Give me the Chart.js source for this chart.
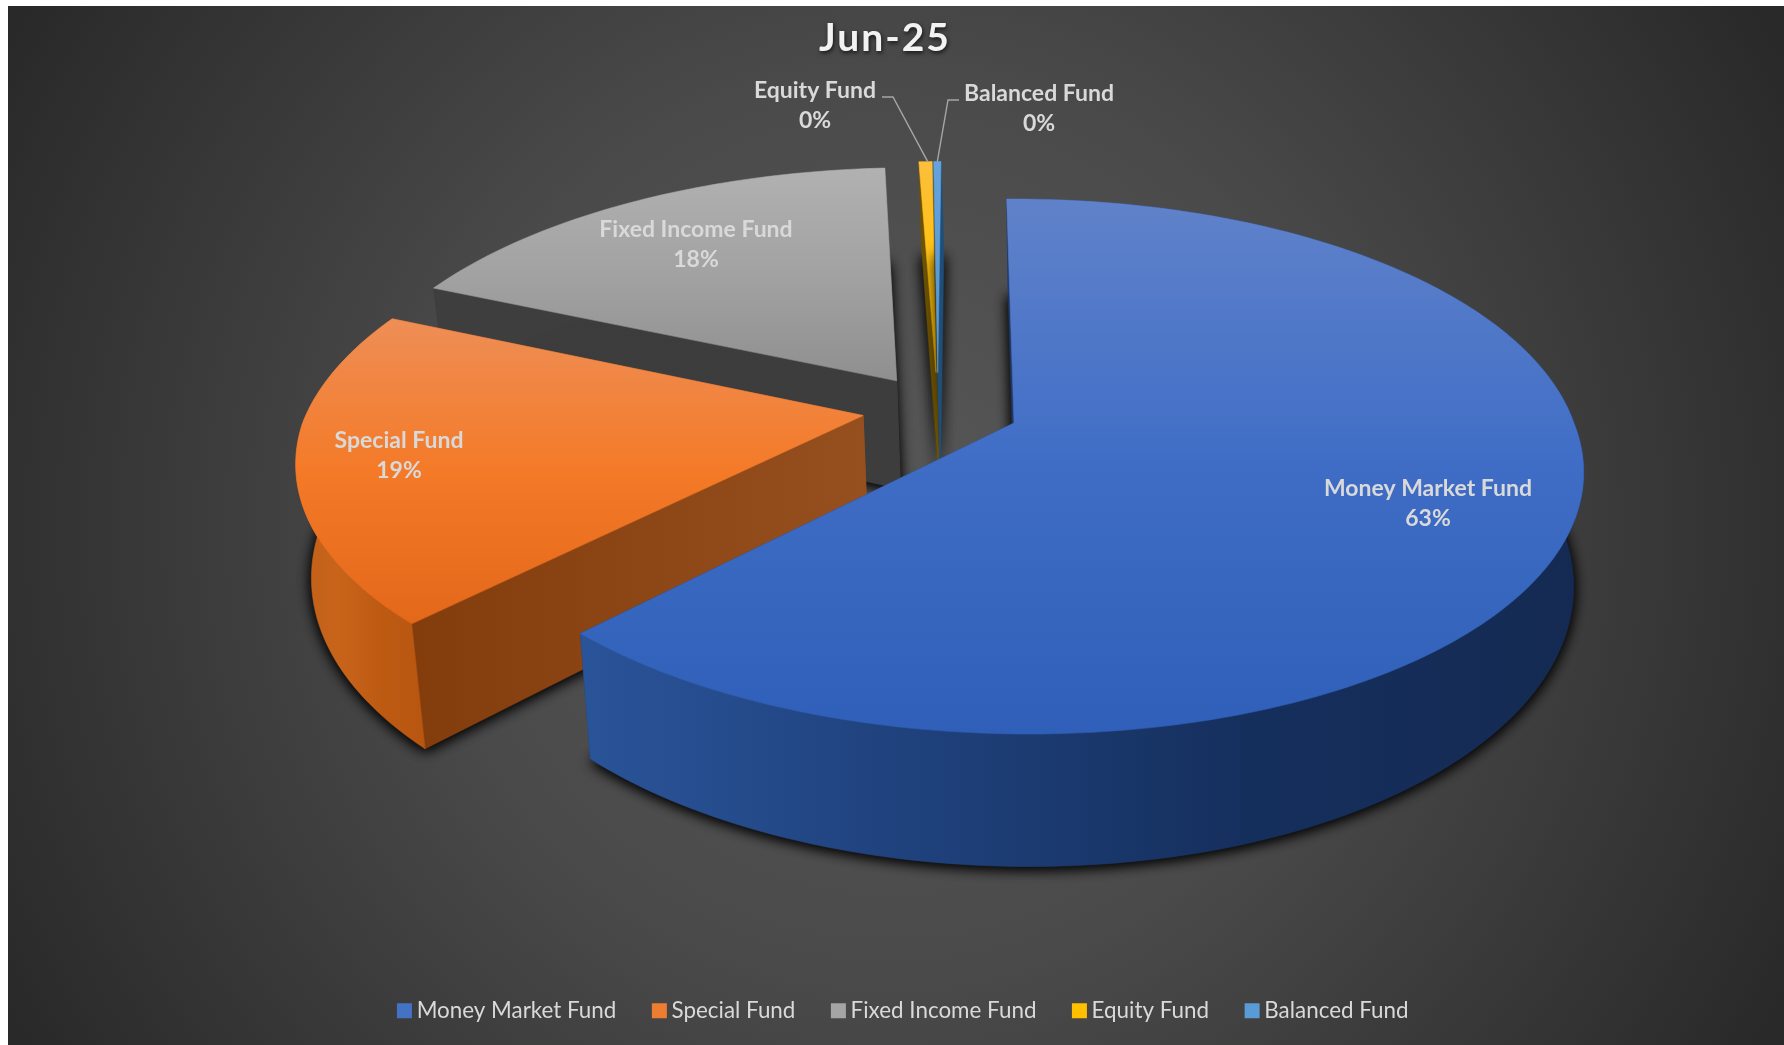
<!DOCTYPE html>
<html>
<head>
<meta charset="utf-8">
<title>Jun-25</title>
<script src="https://cdn.jsdelivr.net/npm/chart.js@4"></script>
<style>
  html, body { margin: 0; background: #fff; overflow: hidden; }
  #chartBox { position: absolute; left: 8px; top: 6px; width: 1776px; height: 1039px; }
</style>
</head>
<body>
<div id="chartBox"><canvas id="fundChart" width="1776" height="1039"></canvas></div>
<script>
// Data
const fundNames = ['Money Market Fund', 'Special Fund', 'Fixed Income Fund', 'Equity Fund', 'Balanced Fund'];
const fundShares = [62.58, 19.2, 17.52, 0.45, 0.25];
const chartTitle = 'Jun-25';

// Slice styling
const sliceColors = ['#4472c4', '#ed7d31', '#a5a5a5', '#ffc000', '#5b9bd5'];
const sliceOffsets = [62, 57, 57, 61, 61];
const drawOrder = [2, 3, 4, 1, 0];
const topStops = [
    ['#6082ca', '#3f6dc6', '#2f5fb8'],
    ['#ee8e56', '#f47a28', '#e3681a'],
    ['#b1b1b1', '#a2a2a2', '#8f8f8f'],
    ['#fdbe3c', '#ffc20e', '#ffc000'],
    ['#66a3dc', '#5b9bd5', '#5b9bd5']
];
const wallStops = [
    ['#2a5499', '#1f417c', '#152f5d', '#142a52'],
    ['#c2601a', '#c8641a', '#bd5a12', '#b85510'],
    ['#3e3e3e', '#3e3e3e', '#3c3c3c', '#3c3c3c'],
    ['#6e5200', '#6e5200', '#6e5200', '#6e5200'],
    ['#1f4e79', '#1f4e79', '#1f4e79', '#1f4e79']
];
const faceStops = [
    ['#1f3864', '#1f3864'],
    ['#833c0b', '#96501f'],
    ['#3c3c3c', '#3d3d3d'],
    ['#6e5200', '#7a5c00'],
    ['#1f4e79', '#1f4e79']
];

// Label centres on the canvas
const labelSpots = [[1420, 498], [391, 450], [688, 239], [807, 100], [1031, 103]];
// Leader elbows for the two small slices
const leaders = { 3: [[874, 91], [885, 91]], 4: [[951, 94], [940, 94]] };

// Perspective of the tilted pie
const view = { ox: 1006, oy: 417, f: 560, h: 260.4, k: 0.1626, depth: 111, vx: 1072, squeeze: 0.02, lean: 75 };

function project(X, Y, low) {
    const s = 1 / (1 + view.k * Y);
    let x = view.ox + view.f * X * s + view.lean * Math.max(s - 1, 0);
    let y = view.oy - view.h * Y * s;
    if (low) {
        x += (view.vx - x) * view.squeeze;
        y += view.depth * s;
    }
    return [x, y];
}

function offsetOf(arc) {
    const mid = (arc.startAngle + arc.endAngle) / 2;
    const d = arc.options.offset / arc.outerRadius;
    return [d * Math.cos(mid), -d * Math.sin(mid)];
}

function sliceGeometry(arc, base) {
    const off = offsetOf(arc);
    const ax = off[0] - base[0], ay = off[1] - base[1];
    const n = Math.ceil((arc.endAngle - arc.startAngle) / 0.02) + 1;
    const rim = [];
    for (let i = 0; i <= n; i++) {
        const a = arc.startAngle + (arc.endAngle - arc.startAngle) * i / n;
        rim.push([ax + Math.cos(a), ay - Math.sin(a)]);
    }
    return { apex: [ax, ay], rim };
}

function tracePath(ctx, pts) {
    ctx.beginPath();
    pts.forEach((p, i) => i ? ctx.lineTo(p[0], p[1]) : ctx.moveTo(p[0], p[1]));
    ctx.closePath();
}

function bandFill(ctx, pts, stops, vertical) {
    const xs = pts.map(p => p[0]), ys = pts.map(p => p[1]);
    const g = vertical
        ? ctx.createLinearGradient(0, Math.min(...ys), 0, Math.max(...ys))
        : ctx.createLinearGradient(Math.min(...xs), 0, Math.max(...xs), 0);
    stops.forEach((c, i) => g.addColorStop(i / (stops.length - 1), c));
    return g;
}

function fillPoly(ctx, pts, stops, vertical) {
    tracePath(ctx, pts);
    ctx.fillStyle = bandFill(ctx, pts, stops, vertical);
    ctx.fill();
    ctx.strokeStyle = ctx.fillStyle;
    ctx.lineWidth = 0.6;
    ctx.stroke();
}

function drawSlice(ctx, arc, i, base) {
    const geo = sliceGeometry(arc, base);
    const up = p => project(p[0], p[1], false);
    const dn = p => project(p[0], p[1], true);
    const top = [up(geo.apex), ...geo.rim.map(up)];
    const bottom = [dn(geo.apex), ...geo.rim.map(dn)];
    const first = geo.rim[0], last = geo.rim[geo.rim.length - 1];

    // soft shadow thrown by the underside
    ctx.save();
    ctx.shadowColor = 'rgba(0,0,0,0.85)';
    ctx.shadowBlur = 14;
    ctx.shadowOffsetY = 2;
    ctx.fillStyle = '#1c1c1c';
    for (let n = 0; n < 2; n++) {
        tracePath(ctx, bottom);
        ctx.fill();
    }
    ctx.restore();

    const faceAt = e => [up(geo.apex), up(e), dn(e), dn(geo.apex)];
    fillPoly(ctx, faceAt(last), faceStops[i], false);
    fillPoly(ctx, faceAt(first), faceStops[i], false);
    const wall = [...geo.rim.map(up), ...geo.rim.map(dn).reverse()];
    fillPoly(ctx, wall, wallStops[i], false);
    fillPoly(ctx, top, topStops[i], true);
}

const pieTilt = {
    id: 'pieTilt',
    beforeDraw(chart) {
        const { ctx, width, height } = chart;
        const g = ctx.createRadialGradient(884, 520, 0, 884, 520, 1010);
        g.addColorStop(0, '#575757');
        g.addColorStop(0.45, '#4a4a4a');
        g.addColorStop(1, '#292929');
        ctx.save();
        ctx.fillStyle = g;
        ctx.fillRect(0, 0, width, height);
        ctx.restore();

        if (!chart.$wrapped) {
            chart.$wrapped = true;
            const drawTitle = chart.titleBlock.draw;
            chart.titleBlock.draw = function () {
                ctx.save();
                ctx.translate(-11, 0);
                ctx.letterSpacing = '2px';
                ctx.shadowColor = 'rgba(0,0,0,0.7)';
                ctx.shadowBlur = 4;
                ctx.shadowOffsetX = 1;
                ctx.shadowOffsetY = 2;
                drawTitle.call(this);
                ctx.restore();
            };
            // legend text sits closer to its swatch than Chart.js leaves it
            const drawLegend = chart.legend.draw;
            chart.legend.draw = function () {
                const fillText = ctx.fillText;
                ctx.fillText = (t, x, y) => fillText.call(ctx, t, x - 6.5, y);
                ctx.save();
                ctx.translate(10, 0);
                drawLegend.call(this);
                ctx.restore();
                delete ctx.fillText;
            };
        }
    },
    beforeDatasetsDraw(chart) {
        const arcs = chart.getDatasetMeta(0).data;
        const base = offsetOf(arcs[0]);
        drawOrder.forEach(i => drawSlice(chart.ctx, arcs[i], i, base));
        return false;
    },
    afterDraw(chart) {
        const { ctx } = chart;
        const arcs = chart.getDatasetMeta(0).data;
        const base = offsetOf(arcs[0]);
        const total = fundShares.reduce((a, b) => a + b, 0);

        ctx.save();
        Object.keys(leaders).forEach(k => {
            const geo = sliceGeometry(arcs[k], base);
            const tip = project(geo.rim[geo.rim.length >> 1][0], geo.rim[geo.rim.length >> 1][1], false);
            ctx.beginPath();
            ctx.moveTo(leaders[k][0][0], leaders[k][0][1]);
            ctx.lineTo(leaders[k][1][0], leaders[k][1][1]);
            ctx.lineTo(tip[0], tip[1]);
            ctx.strokeStyle = '#a6a6a6';
            ctx.lineWidth = 1.4;
            ctx.stroke();
        });

        ctx.fillStyle = '#d9d9d9';
        ctx.textAlign = 'center';
        ctx.textBaseline = 'middle';
        ctx.font = 'bold 23px Lato, "Open Sans", sans-serif';
        fundNames.forEach((name, i) => {
            const spot = labelSpots[i];
            ctx.fillText(name, spot[0], spot[1] - 15);
            ctx.fillText(Math.round(fundShares[i] / total * 100) + '%', spot[0], spot[1] + 15);
        });
        ctx.restore();
    }
};

const fundChart = new Chart(document.getElementById('fundChart').getContext('2d'), {
    type: 'pie',
    data: {
        labels: fundNames,
        datasets: [{
            data: fundShares,
            backgroundColor: sliceColors,
            borderWidth: 0,
            offset: sliceOffsets
        }]
    },
    options: {
        responsive: false,
        animation: false,
        rotation: -0.87,
        layout: { padding: { top: 7, bottom: 13 } },
        plugins: {
            tooltip: { enabled: false },
            title: {
                display: true,
                text: chartTitle,
                color: '#f2f2f2',
                font: { family: 'Lato, "Open Sans", sans-serif', size: 39, weight: 'bold' },
                padding: { top: 2, bottom: 8 }
            },
            legend: {
                position: 'bottom',
                labels: {
                    color: '#d9d9d9',
                    boxWidth: 15,
                    boxHeight: 15,
                    padding: 29,
                    font: { family: 'Lato, "Open Sans", sans-serif', size: 22.4 }
                }
            }
        }
    },
    plugins: [pieTilt]
});
</script>
</body>
</html>
